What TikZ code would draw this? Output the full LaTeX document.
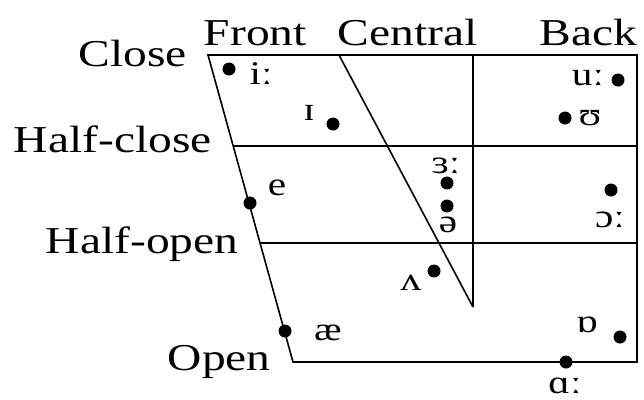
\documentclass[tikz,border=0pt]{standalone}
\usepackage{fontspec}
\setmainfont{Liberation Serif}[FakeStretch=1.25]
\usepackage{tikz}
\usepackage{xcolor}
\usetikzlibrary{positioning, calc}
\definecolor{chartInk}{HTML}{000000}

\begin{document}
\begin{tikzpicture}[x=1pt, y=-1pt, line width=1.6pt,
  vdot/.style={circle, fill=chartInk, minimum size=13pt, inner sep=0pt},
  axislbl/.style={font=\fontsize{38}{40}\selectfont, inner sep=0pt, anchor=base west},
  ipalbl/.style={font=\fontsize{33}{35}\selectfont, inner sep=0pt, anchor=base}]
  \useasboundingbox (0,0) rectangle (644,399);
  % chart outline
  \coordinate (tl) at (208,55);
  \coordinate (tr) at (637,55);
  \coordinate (bl) at (293,362);
  \coordinate (br) at (637,362);
  \coordinate (ct) at (339,55);
  \coordinate (cb) at (473,307);
  \coordinate (vt) at (473,55);
  \coordinate (hc) at ($(tl)!0.2964!(bl)$);
  \coordinate (ho) at ($(tl)!0.6124!(bl)$);
  \draw[chartInk] (tl) -- (tr) -- (br) -- (bl) -- cycle;
  \draw[chartInk] (hc) -- (hc -| tr);
  \draw[chartInk] (ho) -- (ho -| tr);
  \draw[chartInk] (ct) -- (cb);
  \draw[chartInk] (vt) -- (cb);
  % axis labels
  \node[axislbl] (close) at (78,66) {Close};
  \node[axislbl] (halfclose) at (13,152) {Half-close};
  \node[axislbl] (halfopen) at (45,253) {Half-open};
  \node[axislbl] (open) at (167,370) {Open};
  \node[axislbl] (front) at (203,45) {Front};
  \node[axislbl] (central) at (337,45) {Central};
  \node[axislbl, anchor=base east] (back) at (638,45) {Back};
  % vowels
  \foreach \n/\dx/\dy/\lx/\ly/\sym in
    {ii/229/69/261/84/iː, ih/333/124/309/120/ɪ,
     uu/618/80/588/85/uː, uh/565/118/590/125/ʊ,
     er/447/183/446/173/ɜː, ee/250/203/277/195/e,
     ah/447/206/448/232/ə, oo/611/190/610/227/ɔː,
     uv/434/271/411/290/ʌ, ae/285/331/328/340/æ,
     ob/620/337/587/332/ɒ, aa/566/362/565/393/ɑː}{
    \node[vdot] (d\n) at (\dx,\dy) {};
    \node[ipalbl] (l\n) at (\lx,\ly) {\sym};
  }
\end{tikzpicture}
\end{document}
